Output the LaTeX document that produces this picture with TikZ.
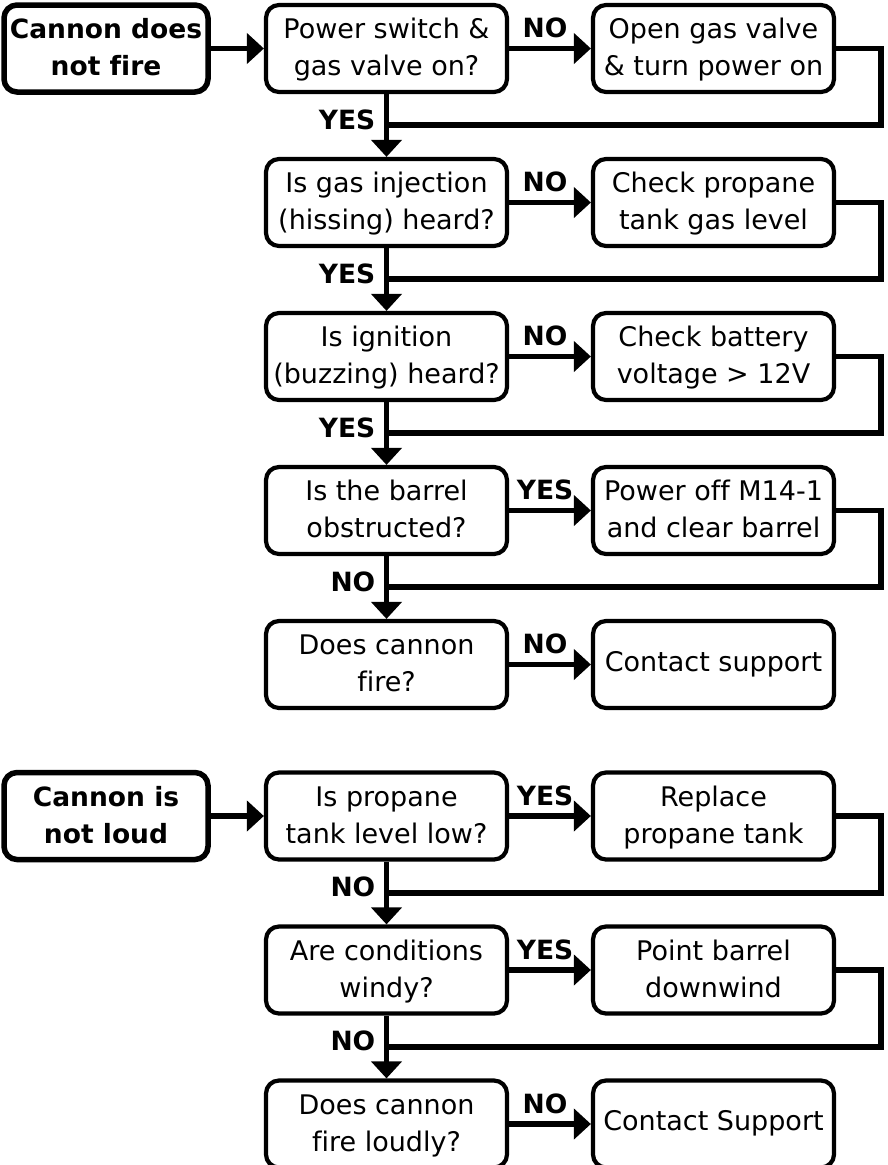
\documentclass[tikz,border=0pt]{standalone}
\usepackage{fontspec}
\setmainfont[Ligatures=NoCommon]{DejaVu Sans}
\usetikzlibrary{arrows.meta}
\begin{document}
\begin{tikzpicture}[x=1pt,y=-1pt,
  box/.style={draw, line width=4.2pt, rounded corners=13pt, minimum width=241pt, minimum height=87pt,
    inner sep=0pt, align=center, font=\fontsize{27}{37}\selectfont,
    text height=60pt, text depth=6pt},
  onebox/.style={box, text height=19pt, text depth=6pt},
  startbox/.style={box, line width=5.5pt, minimum width=204pt, font=\fontsize{26.5}{37}\selectfont\bfseries},
  conn/.style={line width=5.5pt},
  arr/.style={conn, -{Triangle[length=17pt,width=30pt]}},
  lbl/.style={font=\fontsize{26.5}{30}\selectfont\bfseries, inner sep=0pt},
  hlbl/.style={lbl, midway, anchor=base, yshift=11pt, xshift=-5pt},
  vlbl/.style={lbl, midway, anchor=base east, yshift=-3.5pt, xshift=-8.5pt}
]
\useasboundingbox[fill=white] (0,0) rectangle (887,1165);

% ---------- top flow ----------
\node[startbox] (s1) at (106,48.5) {Cannon does\\not fire};
\node[box] (q1) at (386.5,48.5) {Power switch \&\\gas valve on?};
\node[box] (a1) at (713.5,48.5) {Open gas valve\\\& turn power on};
\node[box] (q2) at (386.5,202.5) {Is gas injection\\(hissing) heard?};
\node[box] (a2) at (713.5,202.5) {Check propane\\tank gas level};
\node[box] (q3) at (386.5,356.5) {Is ignition\\(buzzing) heard?};
\node[box] (a3) at (713.5,356.5) {Check battery\\voltage > 12V};
\node[box] (q4) at (386.5,510.5) {Is the barrel\\obstructed?};
\node[box] (a4) at (713.5,510.5) {Power off M14-1\\and clear barrel};
\node[box] (q5) at (386.5,664.5) {Does cannon\\fire?};
\node[onebox] (a5) at (713.5,664.5) {Contact support};

\coordinate (j1) at (386.5,125);   \coordinate (r1) at (881,125);
\coordinate (j2) at (386.5,279);   \coordinate (r2) at (881,279);
\coordinate (j3) at (386.5,433);   \coordinate (r3) at (881,433);
\coordinate (j4) at (386.5,587);   \coordinate (r4) at (881,587);

\draw[arr] (s1.east) -- (q1.west);
\draw[arr] (q1.east) -- node[hlbl] {NO} (a1.west);
\draw[arr] (q2.east) -- node[hlbl] {NO} (a2.west);
\draw[arr] (q3.east) -- node[hlbl] {NO} (a3.west);
\draw[arr] (q4.east) -- node[hlbl] {YES} (a4.west);
\draw[arr] (q5.east) -- node[hlbl] {NO} (a5.west);

\draw[arr] (q1.south) -- node[vlbl] {YES} (q2.north);
\draw[arr] (q2.south) -- node[vlbl] {YES} (q3.north);
\draw[arr] (q3.south) -- node[vlbl] {YES} (q4.north);
\draw[arr] (q4.south) -- node[vlbl] {NO} (q5.north);

\draw[conn] (a1.east) -| (r1) -- (j1);
\draw[conn] (a2.east) -| (r2) -- (j2);
\draw[conn] (a3.east) -| (r3) -- (j3);
\draw[conn] (a4.east) -| (r4) -- (j4);

% ---------- bottom flow ----------
\node[startbox] (t1) at (106,816) {Cannon is\\not loud};
\node[box] (p1) at (386.5,816) {Is propane\\tank level low?};
\node[box] (b1) at (713.5,816) {Replace\\propane tank};
\node[box] (p2) at (386.5,970) {Are conditions\\windy?};
\node[box] (b2) at (713.5,970) {Point barrel\\downwind};
\node[box] (p3) at (386.5,1124) {Does cannon\\fire loudly?};
\node[onebox] (b3) at (713.5,1124) {Contact Support};

\coordinate (k1) at (386.5,893);   \coordinate (u1) at (881,893);
\coordinate (k2) at (386.5,1047);  \coordinate (u2) at (881,1047);

\draw[arr] (t1.east) -- (p1.west);
\draw[arr] (p1.east) -- node[hlbl] {YES} (b1.west);
\draw[arr] (p2.east) -- node[hlbl] {YES} (b2.west);
\draw[arr] (p3.east) -- node[hlbl] {NO} (b3.west);

\draw[arr] (p1.south) -- node[vlbl] {NO} (p2.north);
\draw[arr] (p2.south) -- node[vlbl] {NO} (p3.north);

\draw[conn] (b1.east) -| (u1) -- (k1);
\draw[conn] (b2.east) -| (u2) -- (k2);
\end{tikzpicture}
\end{document}
